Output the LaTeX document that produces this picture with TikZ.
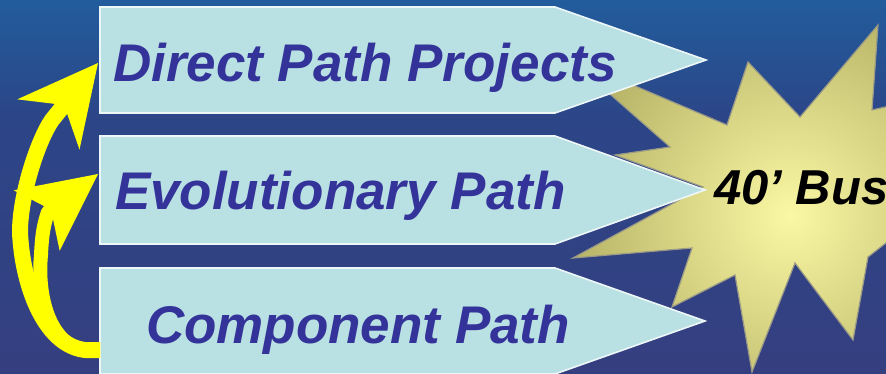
\documentclass[tikz,border=0pt]{standalone}
\usepackage{fontspec}
\setmainfont{Liberation Sans}
\usetikzlibrary{arrows.meta,calc}

\definecolor{bgtop}{HTML}{225C9C}
\definecolor{bgmid}{HTML}{2C4587}
\definecolor{bgbot}{HTML}{353F80}
\definecolor{boxfill}{HTML}{B9E0E3}
\definecolor{boxedge}{HTML}{EEF7F8}
\definecolor{boxtext}{HTML}{33339A}
\definecolor{starin}{HTML}{FAF8A4}
\definecolor{starout}{HTML}{B3AF63}
\definecolor{staredge}{HTML}{9A9A86}
\definecolor{bend}{HTML}{FFFF00}

\begin{document}
\begin{tikzpicture}[x=1pt,y=-1pt,
  body/.style={minimum width=455pt, inner sep=0pt, outer sep=0pt},
  pathbox/.style={fill=boxfill, draw=boxedge, line width=1.6pt, line join=miter},
  boxlabel/.style={anchor=base west, inner sep=0pt, outer sep=0pt, text=boxtext,
    font=\fontsize{53}{60}\selectfont\bfseries\itshape},
  buslabel/.style={anchor=base west, inner sep=0pt, outer sep=0pt, text=black,
    font=\fontsize{49}{56}\selectfont\bfseries\itshape},
  upflow/.style={draw=bend, line cap=butt, line join=round}]

% backdrop
\useasboundingbox (0,0) rectangle (886,374);
\shade[top color=bgtop, bottom color=bgmid] (0,0) rectangle (886,121);
\shade[top color=bgmid, bottom color=bgbot] (0,120) rectangle (886,374);

% starburst
\path[save path=\burst]
  (569,58) -- (727,125) -- (748,62) -- (800,117) -- (878,25) -- (872,110)
  -- (960,90) -- (990,150) -- (960,185) -- (868,257) -- (853,340)
  -- (795,263) -- (752,372) -- (735,275) -- (672,307) -- (692,248)
  -- (573,258) -- (703,187) -- (615,155) -- (670,147) -- cycle;
\begin{scope}
  \clip[use path=\burst];
  \shade[inner color=starin, outer color=starout] (790,215) circle (235);
\end{scope}
\draw[use path=\burst, draw=staredge, line width=1.2pt, line join=miter];

% the three path boxes
\node[body, minimum height=106pt] (dp) at (327.5,60) {};
\node[body, minimum height=108pt] (ev) at (327.5,190) {};
\node[body, minimum height=106pt] (cp) at (327.5,321) {};

\draw[pathbox] (dp.north west) -- (dp.north east) -- ($(dp.east)+(151,0)$)
  -- (dp.south east) -- (dp.south west) -- cycle;
\draw[pathbox] (ev.north west) -- (ev.north east) -- ($(ev.east)+(150,0)$)
  -- (ev.south east) -- (ev.south west) -- cycle;
\draw[pathbox] (cp.north west) -- (cp.north east) -- ($(cp.east)+(150,0)$)
  -- (cp.south east) -- (cp.south west) -- cycle;

\node[boxlabel] (dpt) at (113,82) {Direct Path Projects};
\node[boxlabel] (evt) at (115,210) {Evolutionary Path};
\node[boxlabel] (cpt) at (146,343) {Component Path};
\node[buslabel] (bus) at (714,205) {40’ Bus};

% curved arrows climbing from the component path
\coordinate (tail) at ($(cp.west)+(0,29)$);
\draw[upflow, line width=14pt,
      -{Stealth[length=77pt, width=76pt, inset=18pt, line width=0pt]}]
  (tail) -- ++(-15,0) .. controls +(-36,-5) and +(-4,40) .. (41,255)
  .. controls +(1,-22) and +(-4,12) .. (48,212) -- ($(ev.west)+(-2,-16)$);
\draw[upflow, line width=16pt,
      -{Stealth[length=79pt, width=80pt, inset=25pt, line width=0pt]}]
  (tail) -- ++(-15,0) .. controls +(-42,-5) and +(2,50) .. (20,232)
  .. controls +(0,-37) and +(-14,20) .. (52,120) -- ($(dp.west)+(-2,3)$);
\end{tikzpicture}
\end{document}
